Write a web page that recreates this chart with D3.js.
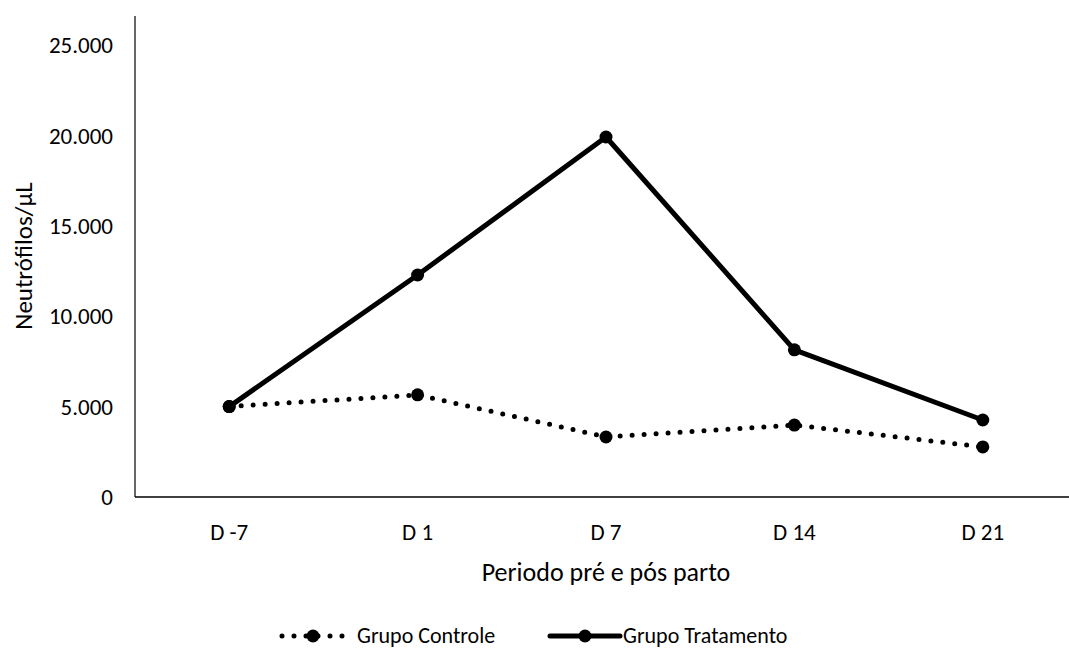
<!DOCTYPE html>
<html>
<head>
<meta charset="utf-8">
<script src="https://cdn.jsdelivr.net/npm/d3@7"></script>
<style>
  html, body { margin: 0; padding: 0; background: #fff; }
  svg text { font-family: Carlito, Lato, "Open Sans", sans-serif; fill: #000; }
</style>
</head>
<body>
<svg id="chart" width="1069" height="649"></svg>
<script>
(function () {
// Neutrophil counts per period, two groups
const periods = ["D -7", "D 1", "D 7", "D 14", "D 21"];
const controle = [5000, 5650, 3320, 3980, 2770];
const tratamento = [5000, 12280, 19910, 8140, 4260];
const yTicks = [0, 5000, 10000, 15000, 20000, 25000];
const seriesNames = ["Grupo Controle", "Grupo Tratamento"];

const svg = d3.select("#chart");
const plotLeft = 135, plotRight = 1077, plotTop = 16, plotBottom = 497;

const x = d3.scalePoint().domain(periods).range([plotLeft, plotRight]).padding(0.5);
const y = d3.scaleLinear().domain([0, 25000]).range([plotBottom, plotBottom - 5 * 90.4]);

const fmt = v => d3.format(",")(v).replace(/,/g, ".");

// Axes
svg.append("line").attr("x1", plotLeft).attr("x2", plotLeft).attr("y1", plotTop).attr("y2", plotBottom)
  .attr("stroke", "#000").attr("stroke-width", 1.2);
svg.append("line").attr("x1", plotLeft).attr("x2", 1069).attr("y1", plotBottom).attr("y2", plotBottom)
  .attr("stroke", "#000").attr("stroke-width", 1.5);

svg.append("g").selectAll("text").data(yTicks).join("text")
  .attr("x", 113).attr("y", d => y(d)).attr("dy", "0.36em")
  .attr("text-anchor", "end").attr("font-size", 23).text(fmt);

svg.append("g").selectAll("text").data(periods).join("text")
  .attr("x", d => x(d)).attr("y", 540)
  .attr("text-anchor", "middle").attr("font-size", 23).text(d => d);

svg.append("text").attr("x", 606).attr("y", 581).attr("text-anchor", "middle")
  .attr("font-size", 26).text("Periodo pré e pós parto");

svg.append("text").attr("transform", "translate(32,256) rotate(-90)")
  .attr("text-anchor", "middle").attr("font-size", 25).text("Neutrófilos/µL");

const line = d3.line().x((d, i) => x(periods[i])).y(d => y(d));

// Control group: dotted line
svg.append("path").datum(controle).attr("d", line)
  .attr("fill", "none").attr("stroke", "#000").attr("stroke-width", 5)
  .attr("stroke-linecap", "round").attr("stroke-dasharray", "0 12");
svg.append("g").selectAll("circle").data(controle).join("circle")
  .attr("cx", (d, i) => x(periods[i])).attr("cy", d => y(d)).attr("r", 6.5).attr("fill", "#000");

// Treatment group: solid line
svg.append("path").datum(tratamento).attr("d", line)
  .attr("fill", "none").attr("stroke", "#000").attr("stroke-width", 5)
  .attr("stroke-linejoin", "round");
svg.append("g").selectAll("circle").data(tratamento).join("circle")
  .attr("cx", (d, i) => x(periods[i])).attr("cy", d => y(d)).attr("r", 6.5).attr("fill", "#000");

// Legend
const ly = 636;
const lg = svg.append("g");
lg.append("line").attr("x1", 282).attr("x2", 346).attr("y1", ly).attr("y2", ly)
  .attr("stroke", "#000").attr("stroke-width", 5).attr("stroke-linecap", "round")
  .attr("stroke-dasharray", "0 12");
lg.append("circle").attr("cx", 313).attr("cy", ly).attr("r", 6.5).attr("fill", "#000");
lg.append("text").attr("x", 357).attr("y", ly).attr("dy", "0.33em").attr("font-size", 22).text(seriesNames[0]);

lg.append("line").attr("x1", 550).attr("x2", 620).attr("y1", ly).attr("y2", ly)
  .attr("stroke", "#000").attr("stroke-width", 5).attr("stroke-linecap", "round");
lg.append("circle").attr("cx", 585).attr("cy", ly).attr("r", 6.5).attr("fill", "#000");
lg.append("text").attr("x", 623).attr("y", ly).attr("dy", "0.33em").attr("font-size", 22).text(seriesNames[1]);
})();
</script>
</body>
</html>
